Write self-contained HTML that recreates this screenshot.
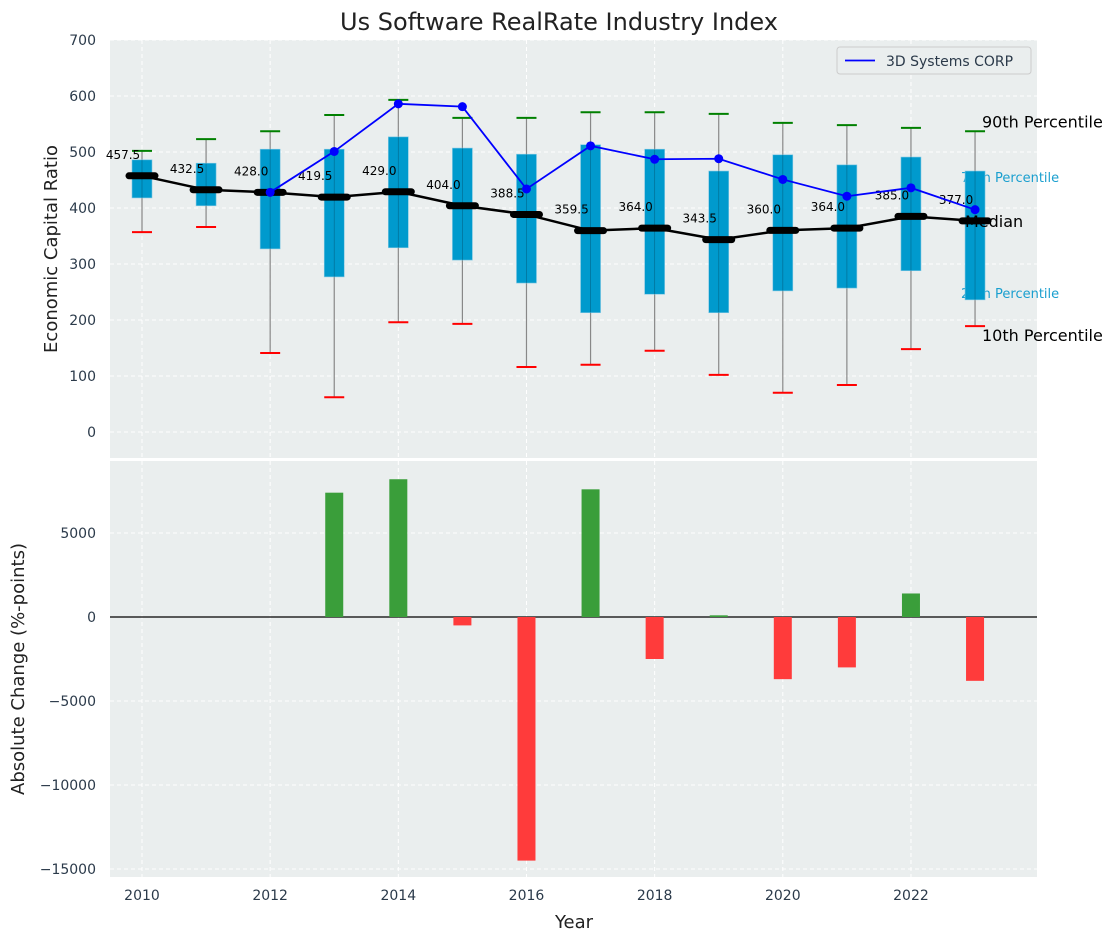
<!DOCTYPE html>
<html><head><meta charset="utf-8"><style>
body{margin:0;background:#fff;font-family:"DejaVu Sans","Liberation Sans",sans-serif;}
</style></head><body>
<svg id="c" width="1117" height="942" xmlns="http://www.w3.org/2000/svg" font-family="DejaVu Sans, Liberation Sans, sans-serif"></svg>
<script>
const years=[2010,2011,2012,2013,2014,2015,2016,2017,2018,2019,2020,2021,2022,2023];
const q10=[357,366,141,62,196,193,116,120,145,102,70,84,148,189];
const q25=[418,404,327,277,329,307,266,213,246,213,252,257,288,236];
const medians=[457.5,432.5,428.0,419.5,429.0,404.0,388.5,359.5,364.0,343.5,360.0,364.0,385.0,377.0];
const q75=[486,480,505,505,527,507,496,513,505,466,495,477,491,466];
const q90=[502,523,537,566,593,561,561,571,571,568,552,548,543,537];
const companyYears=[2012,2013,2014,2015,2016,2017,2018,2019,2020,2021,2022,2023];
const companyVals=[428,501,586,581,434,511,487,488,451,421,436,397];
const changeYears=[2013,2014,2015,2016,2017,2018,2019,2020,2021,2022,2023];
const changeVals=[7400,8200,-500,-14500,7600,-2500,100,-3700,-3000,1400,-3800];
const topTicks=[0,100,200,300,400,500,600,700];
const botTicks=[-15000,-10000,-5000,0,5000];
const xTicks=[2010,2012,2014,2016,2018,2020,2022];

const svg=document.getElementById('c');
const NS='http://www.w3.org/2000/svg';
function el(tag,attrs,parent){const e=document.createElementNS(NS,tag);for(const k in attrs)e.setAttribute(k,attrs[k]);(parent||svg).appendChild(e);return e;}
function txt(s,attrs,parent){const e=el('text',attrs,parent);e.textContent=s;return e;}
const X=y=>142+(y-2010)*64.08;
const Y1=v=>432-v*0.56;
const Y2=v=>617-v*0.0168;
const L=110,R=1037;

let e;
e=el('rect',{x:L,y:40,width:R-L,height:418,fill:'#eaeeee'});

e=el('rect',{x:L,y:461,width:R-L,height:416,fill:'#eaeeee'});


// grids
topTicks.forEach(t=>{el('line',{x1:L,x2:R,y1:Y1(t),y2:Y1(t),stroke:'#fff','stroke-dasharray':'4,3'});
 e=txt(String(t),{x:96,y:Y1(t)+5,'text-anchor':'end','font-size':14,fill:'#2b3a4a'});
 });
botTicks.forEach(t=>{el('line',{x1:L,x2:R,y1:Y2(t),y2:Y2(t),stroke:'#fff','stroke-dasharray':'4,3'});
 e=txt(String(t).replace('-','\u2212'),{x:96,y:Y2(t)+5,'text-anchor':'end','font-size':14,fill:'#2b3a4a'});
 });
xTicks.forEach(t=>{el('line',{x1:X(t),x2:X(t),y1:40,y2:458,stroke:'#fff','stroke-dasharray':'4,3'});
 el('line',{x1:X(t),x2:X(t),y1:461,y2:877,stroke:'#fff','stroke-dasharray':'4,3'});
 e=txt(String(t),{x:X(t),y:900,'text-anchor':'middle','font-size':14,fill:'#2b3a4a'});
 });

// right annotations (drawn before boxes so box covers them)
const lastI=years.length-1;
e=txt('90th Percentile',{x:982,y:Y1(q90[lastI])-4,'font-size':16,fill:'#000'});
e=txt('75th Percentile',{x:961,y:Y1(q75[lastI])+11,'font-size':13,fill:'#1a9fcf'});
e=txt('25th Percentile',{x:961,y:Y1(q25[lastI])-2,'font-size':13,fill:'#1a9fcf'});

// boxes
years.forEach((y,i)=>{const x=X(y);
 e=el('line',{x1:x,x2:x,y1:Y1(q90[i]),y2:Y1(q10[i]),stroke:'#888','stroke-width':1.2});
 e=el('rect',{x:x-10,y:Y1(q75[i]),width:20,height:Y1(q25[i])-Y1(q75[i]),fill:'#009acd',stroke:'#7fc7e3','stroke-width':0.6});
 el('line',{x1:x,x2:x,y1:Y1(q75[i]),y2:Y1(q25[i]),stroke:'#005a7a','stroke-width':0.8,opacity:0.6});
 e=el('line',{x1:x-10,x2:x+10,y1:Y1(q90[i]),y2:Y1(q90[i]),stroke:'green','stroke-width':2});
 e=el('line',{x1:x-10,x2:x+10,y1:Y1(q10[i]),y2:Y1(q10[i]),stroke:'red','stroke-width':2});
});
// median line
e=el('polyline',{points:years.map((y,i)=>X(y)+','+Y1(medians[i])).join(' '),fill:'none',stroke:'#000','stroke-width':2.5});

years.forEach((y,i)=>{const x=X(y),yy=Y1(medians[i]);
 e=el('line',{x1:x-13,x2:x+13,y1:yy,y2:yy,stroke:'#000','stroke-width':7,'stroke-linecap':'round'});
 e=txt(medians[i].toFixed(1),{x:x-19,y:yy-17,'text-anchor':'middle','font-size':12,fill:'#000'});
});
// company line
e=el('polyline',{points:companyYears.map((y,i)=>X(y)+','+Y1(companyVals[i])).join(' '),fill:'none',stroke:'#0000ff','stroke-width':1.8});

companyYears.forEach((y,i)=>{e=el('circle',{cx:X(y),cy:Y1(companyVals[i]),r:4.5,fill:'#0000ff'});});

e=txt('Median',{x:965,y:Y1(medians[lastI])+6,'font-size':16,fill:'#000'});
e=txt('10th Percentile',{x:982,y:Y1(q10[lastI])+15,'font-size':16,fill:'#000'});

// legend
const lg=el('g',{});
el('rect',{x:837,y:47,width:194,height:27,rx:3,fill:'#eaeeee',stroke:'#ccc'},lg);
el('line',{x1:845,x2:875,y1:60.5,y2:60.5,stroke:'#0000ff','stroke-width':1.8},lg);
txt('3D Systems CORP',{x:886,y:66,'font-size':14,fill:'#2b3a4a'},lg);

// bottom bars
e=el('line',{x1:L,x2:R,y1:Y2(0),y2:Y2(0),stroke:'#000','stroke-width':1.2});
changeYears.forEach((y,i)=>{const v=changeVals[i];const y0=Y2(Math.max(v,0)),y1=Y2(Math.min(v,0));
 e=el('rect',{x:X(y)-9,y:y0,width:18,height:Math.max(y1-y0,1),fill:v>=0?'#3a9e3a':'#ff3b3b'});
 });

// titles
e=txt('Us Software RealRate Industry Index',{x:559,y:30,'text-anchor':'middle','font-size':24,fill:'#222'});
e=txt('Economic Capital Ratio',{x:0,y:0,'text-anchor':'middle','font-size':18,fill:'#222',transform:'translate(57,249) rotate(-90)'});
e=txt('Absolute Change (%-points)',{x:0,y:0,'text-anchor':'middle','font-size':18,fill:'#222',transform:'translate(24,669) rotate(-90)'});
e=txt('Year',{x:574,y:928,'text-anchor':'middle','font-size':18,fill:'#222'});
</script>
</body></html>
